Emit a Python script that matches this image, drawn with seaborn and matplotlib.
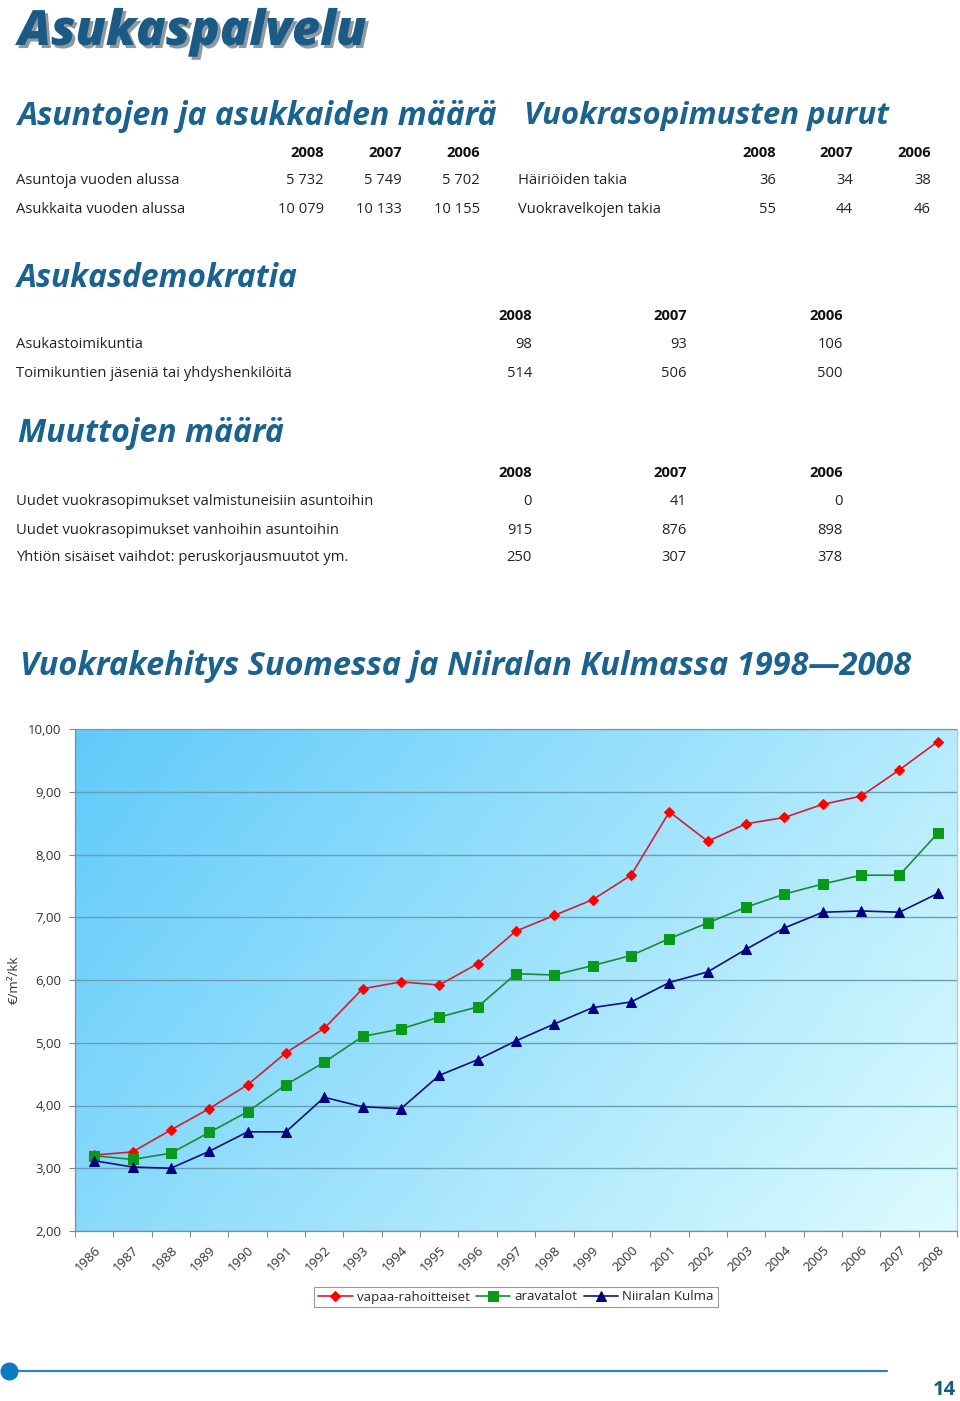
import numpy as np
import pandas as pd
import matplotlib
matplotlib.use("Agg")
import matplotlib.pyplot as plt
import matplotlib.patheffects as pe
from matplotlib.lines import Line2D
from matplotlib.ticker import FixedLocator, FuncFormatter
import seaborn as sns

# ---------------- data ----------------
years = list(range(1986, 2009))
vapaa = [3.21, 3.26, 3.61, 3.95, 4.33, 4.84, 5.23, 5.86, 5.97, 5.92, 6.26, 6.78,
         7.03, 7.28, 7.67, 8.68, 8.21, 8.49, 8.59, 8.80, 8.93, 9.35, 9.80]
arava = [3.20, 3.14, 3.24, 3.57, 3.90, 4.33, 4.69, 5.10, 5.22, 5.41, 5.57, 6.10,
         6.08, 6.23, 6.39, 6.66, 6.91, 7.16, 7.37, 7.53, 7.67, 7.67, 8.34]
niirala = [3.12, 3.02, 3.00, 3.27, 3.58, 3.58, 4.13, 3.98, 3.95, 4.48, 4.73, 5.03,
           5.30, 5.56, 5.65, 5.96, 6.13, 6.49, 6.83, 7.08, 7.10, 7.08, 7.38]
series_names = ["vapaa-rahoitteiset", "aravatalot", "Niiralan Kulma"]

table_years = ["2008", "2007", "2006"]
t1_labels = ["Asuntoja vuoden alussa", "Asukkaita vuoden alussa"]
t1_values = [["5 732", "5 749", "5 702"], ["10 079", "10 133", "10 155"]]
t2_labels = ["Häiriöiden takia", "Vuokravelkojen takia"]
t2_values = [["36", "34", "38"], ["55", "44", "46"]]
t3_labels = ["Asukastoimikuntia", "Toimikuntien jäseniä tai yhdyshenkilöitä"]
t3_values = [["98", "93", "106"], ["514", "506", "500"]]
t4_labels = ["Uudet vuokrasopimukset valmistuneisiin asuntoihin",
             "Uudet vuokrasopimukset vanhoihin asuntoihin",
             "Yhtiön sisäiset vaihdot: peruskorjausmuutot ym."]
t4_values = [["0", "41", "0"], ["915", "876", "898"], ["250", "307", "378"]]

# ---------------- style ----------------
sns.set_theme(style="white")
plt.rcParams["font.family"] = ["Open Sans", "DejaVu Sans"]

W, H = 960, 1401
fig = plt.figure(figsize=(W / 100, H / 100), dpi=100)
renderer = fig.canvas.get_renderer()

HEAD = "#1a6290"
TITLE = "#1a5a84"


def fx(x):
    return x / W


def fy(y):
    return 1 - y / H


def fit_text(x, y, s, width, size=20, **kw):
    t = fig.text(fx(x), fy(y), s, fontsize=size, va="baseline", **kw)
    bb = t.get_window_extent(renderer)
    t.set_fontsize(size * width / bb.width)
    return t


# main title with shadow
fit_text(18, 45, "Asukaspalvelu", 348, color=TITLE, fontweight="heavy",
         fontstyle="italic",
         path_effects=[pe.withSimplePatchShadow(offset=(2.2, -2.2),
                                                shadow_rgbFace="#8d9aa4",
                                                alpha=1.0)])

# section headings
head_kw = dict(color=HEAD, fontweight="bold", fontstyle="italic")
fit_text(18, 125, "Asuntojen ja asukkaiden määrä", 479, **head_kw)
fit_text(524, 124, "Vuokrasopimusten purut", 365, **head_kw)
fit_text(17, 287, "Asukasdemokratia", 281, **head_kw)
fit_text(18, 442, "Muuttojen määrä", 265, **head_kw)
fit_text(20, 675, "Vuokrakehitys Suomessa ja Niiralan Kulmassa 1998\u20142008", 892,
         **head_kw)

# body font size fitted on the longest label
probe = fit_text(16, 505, t4_labels[0], 356, size=10, color="#222222")
BODY = probe.get_fontsize()
probe.remove()


def table(label_x, col_right, head_y, row_ys, labels, values):
    for yr, xr in zip(table_years, col_right):
        fig.text(fx(xr), fy(head_y), yr, fontsize=BODY, fontweight="bold",
                 color="#111111", ha="right", va="baseline")
    for lab, vals, yy in zip(labels, values, row_ys):
        fig.text(fx(label_x), fy(yy), lab, fontsize=BODY, color="#222222",
                 ha="left", va="baseline")
        for v, xr in zip(vals, col_right):
            fig.text(fx(xr), fy(yy), v, fontsize=BODY, color="#222222",
                     ha="right", va="baseline")


table(16, [324, 402, 480], 157, [184.5, 213], t1_labels, t1_values)
table(518, [776, 853, 931], 157, [184.5, 213], t2_labels, t2_values)
table(16, [532, 687, 843], 320, [348.5, 377], t3_labels, t3_values)
table(16, [532, 687, 843], 477, [505, 533.5, 561], t4_labels, t4_values)

# ---------------- chart ----------------
ax = fig.add_axes([fx(75), fy(1231), 882 / W, 502 / H])

df = pd.DataFrame({
    "vuosi": years * 3,
    "arvo": vapaa + arava + niirala,
    "sarja": [series_names[0]] * len(years) + [series_names[1]] * len(years)
             + [series_names[2]] * len(years),
})

line_cols = {series_names[0]: "#cc2233", series_names[1]: "#1a8a3a",
             series_names[2]: "#101080"}
mark_cols = ["#ff0000", "#089a18", "#000080"]
mark_sizes = [5.5, 6.5, 6.5]

sns.lineplot(data=df, x="vuosi", y="arvo", hue="sarja", style="sarja",
             palette=line_cols, markers=["D", "s", "^"], dashes=False,
             linewidth=1.2, markersize=6, ax=ax, zorder=3)

for ln, mc, ms in zip(ax.lines[:3], mark_cols, mark_sizes):
    ln.set_markerfacecolor(mc)
    ln.set_markeredgecolor(mc)
    ln.set_markersize(ms)

handles, labels = ax.get_legend_handles_labels()
ax.get_legend().remove()
for h, mc, ms in zip(handles, mark_cols, mark_sizes):
    h.set_markerfacecolor(mc)
    h.set_markeredgecolor(mc)
    h.set_markersize(ms)
    h.set_linewidth(1.2)

x0, x1 = 1985.5, 2008.5
ax.set_xlim(x0, x1)
ax.set_ylim(2, 10)

# gradient background
gx = np.linspace(0, 1, 300)
gy = np.linspace(0, 1, 200)
GX, GY = np.meshgrid(gx, gy)
t = np.clip(0.68 * GX + 0.32 * GY, 0, 1)  # GY=1 at bottom (origin upper)
c0 = np.array([96, 202, 250]) / 255
c1 = np.array([222, 251, 255]) / 255
img = c0[None, None, :] * (1 - t[..., None]) + c1[None, None, :] * t[..., None]
ax.imshow(img, extent=[x0, x1, 2, 10], aspect="auto", origin="upper",
          zorder=0, interpolation="bilinear")

ax.set_yticks(np.arange(2, 11, 1))
ax.yaxis.set_major_formatter(FuncFormatter(lambda v, p: f"{v:.2f}".replace(".", ",")))
ax.grid(axis="y", color="#6a9fb2", linewidth=1.0, zorder=1)
ax.set_axisbelow(False)
for gl in ax.get_ygridlines():
    gl.set_zorder(1)

ax.set_xticks(years)
ax.set_xticklabels([str(y) for y in years], rotation=45, ha="right",
                   rotation_mode="anchor")
ax.xaxis.set_minor_locator(FixedLocator(np.arange(x0, x1 + 0.01, 1.0)))
ax.tick_params(axis="x", which="major", length=0, pad=9, labelsize=9.5,
               labelcolor="#333333")
ax.tick_params(axis="x", which="minor", length=4, width=0.8, color="#888888",
               direction="out", bottom=True)
ax.tick_params(axis="y", which="major", length=4, width=0.8, color="#888888",
               direction="out", left=True, pad=6, labelsize=9.5,
               labelcolor="#333333")
ax.set_xlabel("")
ax.set_ylabel("")

for side in ["left", "bottom"]:
    ax.spines[side].set_color("#8a8a8a")
    ax.spines[side].set_linewidth(0.9)
for side in ["top", "right"]:
    ax.spines[side].set_color("#a9cfe2")
    ax.spines[side].set_linewidth(1.0)

fig.text(fx(14), fy(980), "€/m²/kk", rotation=90, fontsize=9.5,
         color="#333333", ha="center", va="center")

leg = ax.legend(handles, labels, ncol=3, loc="center",
                bbox_to_anchor=(0.5, -66 / 502), frameon=True, fancybox=False,
                edgecolor="#9a9a9a", facecolor="white", framealpha=1,
                fontsize=9.5, handlelength=2.6, handletextpad=0.3,
                columnspacing=0.5, borderpad=0.3)
leg.get_frame().set_linewidth(0.8)

# ---------------- footer ----------------
fig.add_artist(Line2D([fx(9), fx(887)], [fy(1371), fy(1371)], color="#2a86b8",
                      linewidth=1.6))
fig.add_artist(Line2D([fx(9)], [fy(1371)], marker="o", markersize=13,
                      color="#0b7ac0", markeredgewidth=0))
fig.text(fx(956), fy(1395), "14", fontsize=14.5, fontweight="bold", color=TITLE,
         ha="right", va="baseline")

fig.savefig("out.png", dpi=100)
